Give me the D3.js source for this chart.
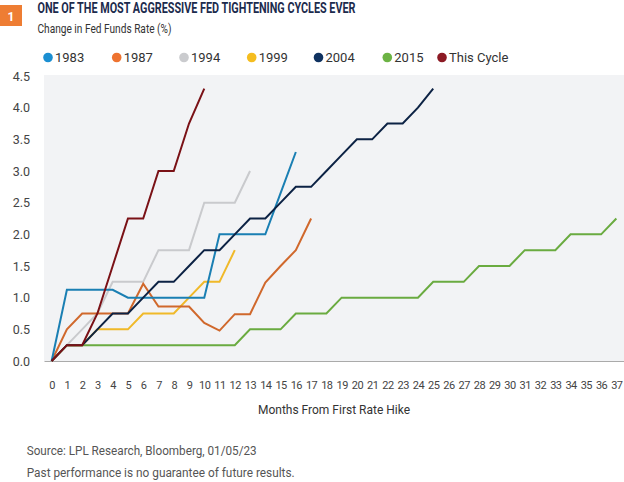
<!DOCTYPE html>
<html>
<head>
<meta charset="utf-8">
<script src="https://cdn.jsdelivr.net/npm/d3@7"></script>
<style>
  html, body { margin: 0; padding: 0; background: #ffffff; }
  svg { display: block; }
  text { font-family: Roboto, "Open Sans", sans-serif; }
</style>
</head>
<body>
<svg id="chart" width="624" height="482"></svg>
<script>
// ---- Data ----
const months = d3.range(0, 38);
const yTicks = [0, 0.5, 1.0, 1.5, 2.0, 2.5, 3.0, 3.5, 4.0, 4.5];
const seriesNames = ["1983", "1987", "1994", "1999", "2004", "2015", "This Cycle"];
const s1983 = [0, 1.125, 1.125, 1.125, 1.125, 1.0, 1.0, 1.0, 1.0, 1.0, 1.0, 2.0, 2.0, 2.0, 2.0, 2.65, 3.3];
const s1987 = [0, 0.5, 0.75, 0.75, 0.75, 0.75, 1.22, 0.86, 0.86, 0.86, 0.6, 0.48, 0.74, 0.74, 1.24, 1.5, 1.75, 2.25];
const s1994 = [0, 0.25, 0.5, 0.75, 1.25, 1.25, 1.25, 1.75, 1.75, 1.75, 2.5, 2.5, 2.5, 3.0];
const s1999 = [0, 0.25, 0.25, 0.5, 0.5, 0.5, 0.75, 0.75, 0.75, 1.0, 1.25, 1.25, 1.75];
const s2004 = [0, 0.25, 0.25, 0.5, 0.75, 0.75, 1.0, 1.25, 1.25, 1.5, 1.75, 1.75, 2.0, 2.25, 2.25, 2.5, 2.75, 2.75, 3.0, 3.25, 3.5, 3.5, 3.75, 3.75, 4.0, 4.3];
const s2015 = [0, 0.25, 0.25, 0.25, 0.25, 0.25, 0.25, 0.25, 0.25, 0.25, 0.25, 0.25, 0.25, 0.5, 0.5, 0.5, 0.75, 0.75, 0.75, 1.0, 1.0, 1.0, 1.0, 1.0, 1.0, 1.25, 1.25, 1.25, 1.5, 1.5, 1.5, 1.75, 1.75, 1.75, 2.0, 2.0, 2.0, 2.25];
const sThisCycle = [0, 0.25, 0.25, 0.75, 1.5, 2.25, 2.25, 3.0, 3.0, 3.75, 4.3];

const seriesValues = [s1983, s1987, s1994, s1999, s2004, s2015, sThisCycle];
const lineColors = ["#1a7fb3", "#d0682c", "#c9cacd", "#f0b929", "#0c2244", "#6aab40", "#7a1116"];
const legendColors = ["#1b8fd2", "#ee7330", "#cacbce", "#f5bd1f", "#0f3260", "#6cb344", "#8c1a24"];

// ---- Chart ----
const svg = d3.select("#chart");

const x = d3.scaleLinear().domain([-0.5, 37.5]).range([44, 624]);
const y = d3.scaleLinear().domain([0, 4.5]).range([361, 76]);

// header badge
svg.append("rect").attr("x", 0).attr("y", 5).attr("width", 22).attr("height", 21).attr("fill", "#ee7d33");
svg.append("text").attr("x", 11).attr("y", 20.5).attr("text-anchor", "middle")
  .attr("font-size", 12).attr("font-weight", "bold").attr("fill", "#fff").text("1");

svg.append("text").attr("x", 37.5).attr("y", 12.5)
  .attr("font-size", 14).attr("font-weight", "bold").attr("fill", "#1c2b4d")
  .attr("textLength", 318).attr("lengthAdjust", "spacingAndGlyphs")
  .text("ONE OF THE MOST AGGRESSIVE FED TIGHTENING CYCLES EVER");

svg.append("text").attr("x", 37.5).attr("y", 33)
  .attr("font-size", 13.5).attr("fill", "#333")
  .attr("textLength", 134).attr("lengthAdjust", "spacingAndGlyphs")
  .text("Change in Fed Funds Rate (%)");

// legend
const legendX = [48, 116.7, 184, 251.7, 318.5, 387.3, 442];
const lg = svg.append("g");
seriesNames.forEach((name, i) => {
  lg.append("circle").attr("cx", legendX[i]).attr("cy", 57.5).attr("r", 4.8).attr("fill", legendColors[i]);
  lg.append("text").attr("x", legendX[i] + 7).attr("y", 62)
    .attr("font-size", 13).attr("fill", "#333").text(name);
});

// plot background
svg.append("rect").attr("x", 44).attr("y", 75).attr("width", 580).attr("height", 286).attr("fill", "#f2f3f5");

// y axis labels
const yAxis = d3.axisLeft(y).tickValues(yTicks).tickFormat(d3.format(".1f")).tickSize(0).tickPadding(0);
const yg = svg.append("g").attr("transform", "translate(30,0)").call(yAxis);
yg.select(".domain").remove();
yg.selectAll("text").attr("font-size", 12.5).attr("fill", "#444").attr("font-family", "Roboto, sans-serif");

// x axis
const xAxis = d3.axisBottom(x).tickValues(months).tickFormat(d3.format("d")).tickSize(0).tickPadding(20);
const xg = svg.append("g").attr("transform", "translate(0,361)").call(xAxis);
xg.select(".domain").attr("stroke", "#aaaaaa").attr("stroke-width", 1);
xg.selectAll("text").attr("font-size", 11).attr("fill", "#444").attr("font-family", "Roboto, sans-serif")
  .attr("letter-spacing", -0.5);

svg.append("text").attr("x", 334).attr("y", 414).attr("text-anchor", "middle")
  .attr("font-size", 13).attr("fill", "#333")
  .attr("textLength", 152).attr("lengthAdjust", "spacingAndGlyphs")
  .text("Months From First Rate Hike");

// lines
const line = d3.line().x((d, i) => x(i)).y(d => y(d));
const drawOrder = [5, 3, 2, 1, 0, 4, 6];
drawOrder.forEach(i => {
  svg.append("path").datum(seriesValues[i])
    .attr("d", line)
    .attr("fill", "none")
    .attr("stroke", lineColors[i])
    .attr("stroke-width", 2)
    .attr("stroke-linejoin", "miter");
});

// footnotes
svg.append("text").attr("x", 26.7).attr("y", 455)
  .attr("font-size", 12.5).attr("fill", "#555")
  .attr("textLength", 230).attr("lengthAdjust", "spacingAndGlyphs")
  .text("Source: LPL Research, Bloomberg, 01/05/23");
svg.append("text").attr("x", 26.7).attr("y", 477)
  .attr("font-size", 12.5).attr("fill", "#555")
  .attr("textLength", 268).attr("lengthAdjust", "spacingAndGlyphs")
  .text("Past performance is no guarantee of future results.");
</script>
</body>
</html>
